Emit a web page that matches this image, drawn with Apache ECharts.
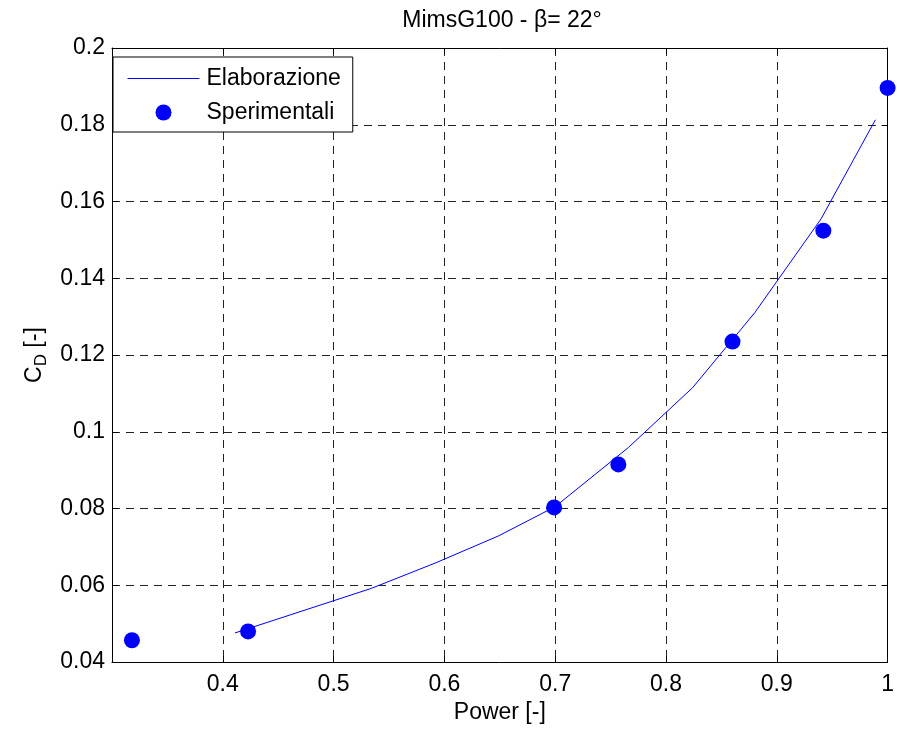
<!DOCTYPE html>
<html>
<head>
<meta charset="utf-8">
<script src="https://cdn.jsdelivr.net/npm/echarts@6/dist/echarts.min.js"></script>
<style>
  html, body { margin: 0; padding: 0; background: #fff; }
  #chart { width: 897px; height: 729px; }
</style>
</head>
<body>
<div id="chart"></div>
<script>
// Modelled drag coefficient curve (Elaborazione)
const modelPower = [0.411, 0.534, 0.5925, 0.649, 0.700, 0.766, 0.824, 0.880, 0.940, 0.989];
const modelCd    = [0.0476, 0.0592, 0.0659, 0.0729, 0.0805, 0.0959, 0.1115, 0.1310, 0.1555, 0.1813];

// Measured points (Sperimentali)
const expPower = [0.318, 0.4228, 0.699, 0.757, 0.860, 0.942, 1.000];
const expCd    = [0.0457, 0.0480, 0.0803, 0.0915, 0.1235, 0.1524, 0.1896];

const xTickLabels = ['0.4', '0.5', '0.6', '0.7', '0.8', '0.9', '1'];
const yTickLabels = ['0.04', '0.06', '0.08', '0.1', '0.12', '0.14', '0.16', '0.18', '0.2'];

const FONT = '"Liberation Sans", Arial, Helvetica, sans-serif';
const FS = 23;
const BLUE = '#0000ff';

const chart = echarts.init(document.getElementById('chart'), null, { renderer: 'canvas' });

const gridLine = { show: true, lineStyle: { color: '#222', width: 1, type: [8, 6] } };
const axisLine = { show: true, lineStyle: { color: '#000', width: 1 } };
const tickIn = { show: true, inside: true, length: 6, lineStyle: { color: '#000' } };

function fmtX(v) {
  const s = String(+v.toFixed(2));
  return xTickLabels.indexOf(s) >= 0 ? s : '';
}
function fmtY(v) {
  const s = String(+v.toFixed(2));
  return yTickLabels.indexOf(s) >= 0 ? s : '';
}

chart.setOption({
  animation: false,
  backgroundColor: '#fff',
  textStyle: { fontFamily: FONT },
  title: {
    text: 'MimsG100 - β= 22°',
    left: 497, top: 4, textAlign: 'center',
    textStyle: { fontFamily: FONT, fontSize: FS, fontWeight: 'normal', color: '#000' }
  },
  grid: { left: 112, right: 4, top: 48, bottom: 66, containLabel: false },
  legend: {
    left: 113, top: 57,
    orient: 'vertical',
    backgroundColor: '#fff',
    borderColor: '#000', borderWidth: 1, borderRadius: 0,
    padding: [10, 12, 8, 14],
    itemGap: 11,
    itemWidth: 72, itemHeight: 16,
    textStyle: { fontFamily: FONT, fontSize: FS, color: '#000', padding: [0, 0, 0, 2] },
    data: [
      { name: 'Elaborazione', itemStyle: { color: BLUE, opacity: 0 }, lineStyle: { width: 1, color: 'inherit' } },
      { name: 'Sperimentali' }
    ]
  },
  xAxis: [{
    type: 'value', min: 0.3, max: 1, interval: 0.1,
    position: 'bottom',
    name: 'Power [-]', nameLocation: 'middle', nameGap: 36,
    nameTextStyle: { fontFamily: FONT, fontSize: FS, color: '#000' },
    axisLine: axisLine, axisTick: tickIn,
    axisLabel: { show: true, margin: 11, fontFamily: FONT, fontSize: FS, color: '#000', formatter: fmtX, showMaxLabel: true },
    splitLine: gridLine
  }, {
    type: 'value', min: 0.3, max: 1, interval: 0.1,
    position: 'top',
    axisLine: axisLine, axisTick: tickIn,
    axisLabel: { show: false }, splitLine: { show: false }
  }],
  yAxis: [{
    type: 'value', min: 0.04, max: 0.2, interval: 0.02,
    position: 'left',
    name: '{c|C}{d|D}{c| [-]}', nameLocation: 'middle', nameGap: 57, nameRotate: 90,
    nameTextStyle: {
      fontFamily: FONT, color: '#000',
      rich: {
        c: { fontFamily: FONT, fontSize: FS, color: '#000' },
        d: { fontFamily: FONT, fontSize: 17, color: '#000', padding: [12, 0, 0, 0] }
      }
    },
    axisLine: axisLine, axisTick: tickIn,
    axisLabel: { show: true, margin: 7, fontFamily: FONT, fontSize: FS, color: '#000', formatter: fmtY },
    splitLine: gridLine
  }, {
    type: 'value', min: 0.04, max: 0.2, interval: 0.02,
    position: 'right',
    axisLine: axisLine, axisTick: tickIn,
    axisLabel: { show: false }, splitLine: { show: false }
  }],
  series: [{
    name: 'Elaborazione',
    type: 'line',
    xAxisIndex: 0, yAxisIndex: 0,
    symbol: 'none',
    color: BLUE,
    lineStyle: { color: BLUE, width: 1 },
    itemStyle: { color: BLUE },
    data: modelPower.map((p, i) => [p, modelCd[i]])
  }, {
    name: 'Sperimentali',
    type: 'scatter',
    xAxisIndex: 0, yAxisIndex: 0,
    symbol: 'circle', symbolSize: 16,
    color: BLUE,
    itemStyle: { color: BLUE, opacity: 1 },
    clip: false,
    z: 3,
    data: expPower.map((p, i) => [p, expCd[i]])
  }]
});
</script>
</body>
</html>
